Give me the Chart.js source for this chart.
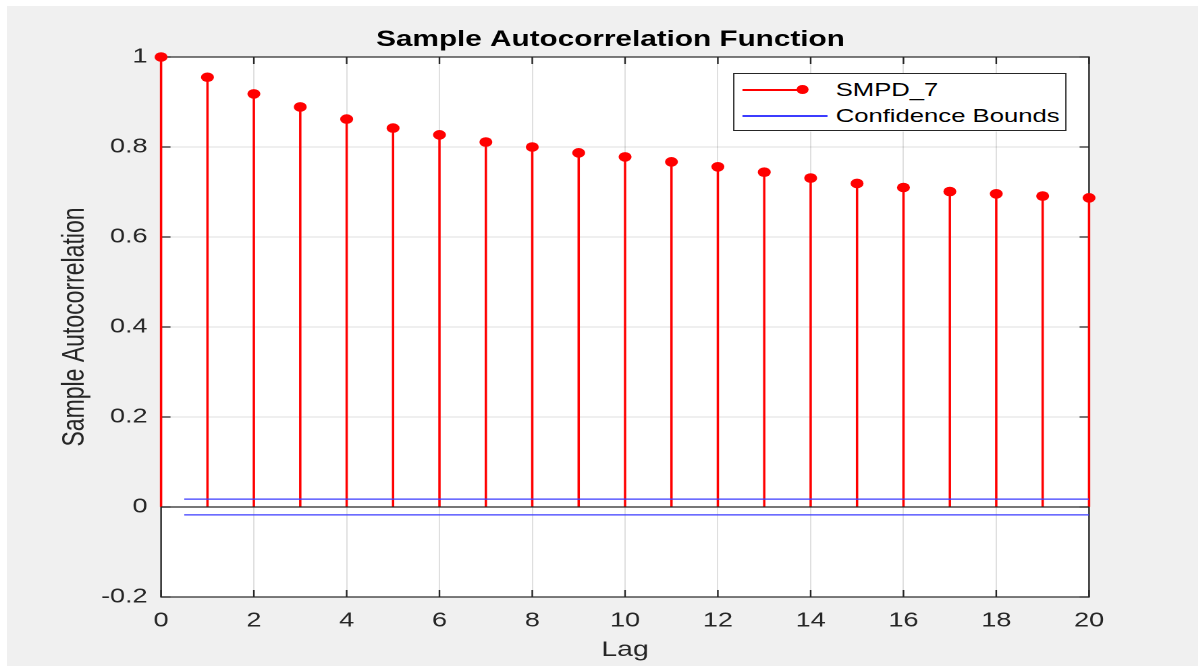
<!DOCTYPE html>
<html>
<head>
<meta charset="utf-8">
<title>Sample Autocorrelation Function</title>
<script src="https://cdn.jsdelivr.net/npm/chart.js@4.4.1/dist/chart.umd.min.js"></script>
<style>
  html, body { margin: 0; padding: 0; background: #ffffff; overflow: hidden; }
  body { width: 1198px; height: 666px; position: relative; font-family: "Liberation Sans", Arial, sans-serif; }
  #backdrop { position: absolute; left: 7px; top: 6px; right: 0; bottom: 0; background: #f0f0f0; }
  /* the reference figure is stretched sideways, so the whole chart is too */
  #stage { position: absolute; left: 0; top: 0; width: 888px; height: 666px; transform: scaleX(1.35); transform-origin: 0 0; }
  #stage canvas { position: absolute; left: 0; top: 0; }
  #legendBox { position: absolute; left: 543px; top: 73px; width: 245px; height: 56px; background: #fff; border: 1px solid #262626; }
  .legend-row { position: absolute; left: 0; height: 24px; width: 100%; }
  .legend-line { position: absolute; left: 6px; top: 11px; height: 1.5px; }
  .legend-dot { position: absolute; width: 9px; height: 9px; border-radius: 50%; background: #ff0000; top: 7px; }
  .legend-text { position: absolute; left: 75px; top: 0; line-height: 24px; font-size: 19px; color: #000; white-space: nowrap; }
</style>
</head>
<body>
<div id="backdrop"></div>
<div id="stage">
  <canvas id="acfChart" width="888" height="666"></canvas>
  <div id="legendBox">
    <div class="legend-row" style="top: 4px;">
      <span class="legend-line" style="width: 45px; background-color: #ff0000;"></span>
      <span class="legend-dot" style="left: 46px;"></span>
      <span class="legend-text" id="legendStem"></span>
    </div>
    <div class="legend-row" style="top: 30px;">
      <span class="legend-line" style="width: 63px; background-color: #3c3cff;"></span>
      <span class="legend-text" id="legendBounds"></span>
    </div>
  </div>
</div>
<script>
const lags = [0, 1, 2, 3, 4, 5, 6, 7, 8, 9, 10, 11, 12, 13, 14, 15, 16, 17, 18, 19, 20];
const acfValues = [1, 0.955, 0.918, 0.889, 0.862, 0.842, 0.827, 0.811, 0.800, 0.787, 0.778,
  0.767, 0.756, 0.744, 0.731, 0.719, 0.710, 0.701, 0.696, 0.691, 0.687];
const boundLags = [0.5, 20];
const upperBound = [0.0175, 0.0175];
const lowerBound = [-0.0175, -0.0175];
const baseLags = [0, 20];
const baseValues = [0, 0];

const xTicks = [0, 2, 4, 6, 8, 10, 12, 14, 16, 18, 20];
const xTickLabels = ['0', '2', '4', '6', '8', '10', '12', '14', '16', '18', '20'];
const yTicks = [-0.2, 0, 0.2, 0.4, 0.6, 0.8, 1];
const yTickLabels = ['-0.2', '0', '0.2', '0.4', '0.6', '0.8', '1'];

const seriesName = 'SMPD_7';
const boundsName = 'Confidence Bounds';
const chartTitle = 'Sample Autocorrelation Function';
const xTitle = 'Lag';
const yTitle = 'Sample Autocorrelation';

const axisColor = '#262626';
const gridColor = 'rgba(38,38,38,0.15)';
const stemColor = '#ff0000';
const boundColor = '#3c3cff';
const fontFamily = '"Liberation Sans", Arial, Helvetica, sans-serif';

document.getElementById('legendStem').textContent = seriesName;
document.getElementById('legendBounds').textContent = boundsName;

const toPoints = (xs, ys) => xs.map((x, i) => ({ x, y: ys[i] }));

// white plot area, then the MATLAB style box with inward ticks
const framePlugin = {
  id: 'frame',
  beforeDraw(chart) {
    const { ctx, chartArea: a } = chart;
    ctx.save();
    ctx.fillStyle = '#ffffff';
    ctx.fillRect(a.left, a.top, a.right - a.left, a.bottom - a.top);
    ctx.restore();
  },
  beforeDatasetsDraw(chart) {
    const { ctx, chartArea: a, scales } = chart;
    const tick = 7;
    ctx.save();
    ctx.strokeStyle = axisColor;
    ctx.lineWidth = 1.2;
    ctx.strokeRect(a.left, a.top, a.right - a.left, a.bottom - a.top);
    ctx.beginPath();
    xTicks.forEach((v) => {
      const px = scales.x.getPixelForValue(v);
      ctx.moveTo(px, a.bottom);
      ctx.lineTo(px, a.bottom - tick);
      ctx.moveTo(px, a.top);
      ctx.lineTo(px, a.top + tick);
    });
    yTicks.forEach((v) => {
      const py = scales.y.getPixelForValue(v);
      ctx.moveTo(a.left, py);
      ctx.lineTo(a.left + tick, py);
      ctx.moveTo(a.right, py);
      ctx.lineTo(a.right - tick, py);
    });
    ctx.stroke();
    ctx.restore();
  }
};

new Chart(document.getElementById('acfChart'), {
  type: 'bar',
  data: {
    datasets: [
      {
        type: 'scatter',
        label: seriesName,
        data: toPoints(lags, acfValues),
        pointRadius: 4.8,
        pointBackgroundColor: stemColor,
        pointBorderColor: stemColor,
        pointBorderWidth: 0,
        clip: false,
        order: 0
      },
      {
        type: 'line',
        label: boundsName,
        data: toPoints(boundLags, upperBound),
        borderColor: boundColor,
        borderWidth: 1.3,
        pointRadius: 0,
        order: 1
      },
      {
        type: 'line',
        label: 'lower',
        data: toPoints(boundLags, lowerBound),
        borderColor: boundColor,
        borderWidth: 1.3,
        pointRadius: 0,
        order: 1
      },
      {
        type: 'line',
        label: 'baseline',
        data: toPoints(baseLags, baseValues),
        borderColor: axisColor,
        borderWidth: 1.2,
        pointRadius: 0,
        order: 2
      },
      {
        type: 'bar',
        label: 'stems',
        data: toPoints(lags, acfValues),
        backgroundColor: stemColor,
        barThickness: 1.1,
        clip: false,
        order: 3
      }
    ]
  },
  options: {
    responsive: false,
    animation: false,
    devicePixelRatio: 2,
    layout: { padding: { left: 16.4, right: 0, top: 0, bottom: 0 } },
    plugins: {
      legend: { display: false },
      tooltip: { enabled: false },
      title: {
        display: true,
        text: chartTitle,
        color: '#000000',
        font: { family: fontFamily, size: 22, weight: 'bold' },
        padding: { top: 26.8, bottom: 3.8 }
      }
    },
    scales: {
      x: {
        type: 'linear',
        min: 0,
        max: 20,
        offset: false,
        afterFit(scale) { scale.height = 69; },
        afterBuildTicks(scale) { scale.ticks = xTicks.map((value) => ({ value })); },
        ticks: {
          color: axisColor,
          font: { family: fontFamily, size: 20 },
          padding: 12,
          maxRotation: 0,
          callback: (value) => xTickLabels[xTicks.indexOf(value)]
        },
        grid: { color: gridColor, drawTicks: false, offset: false },
        border: { display: false },
        title: {
          display: true,
          text: xTitle,
          color: axisColor,
          font: { family: fontFamily, size: 21 },
          padding: { top: 0, bottom: 3.4 }
        }
      },
      y: {
        type: 'linear',
        min: -0.2,
        max: 1,
        afterFit(scale) { scale.width = 102.9; },
        afterBuildTicks(scale) { scale.ticks = yTicks.map((value) => ({ value })); },
        ticks: {
          color: axisColor,
          font: { family: fontFamily, size: 20 },
          padding: 10,
          callback: (value) => yTickLabels[yTicks.findIndex((t) => Math.abs(t - value) < 1e-9)]
        },
        grid: { color: gridColor, drawTicks: false },
        border: { display: false },
        title: {
          display: true,
          text: yTitle,
          color: axisColor,
          font: { family: fontFamily, size: 23 },
          padding: { top: 25.4, bottom: 0 }
        }
      },
      yRight: {
        type: 'linear',
        position: 'right',
        display: true,
        afterFit(scale) { scale.width = 81.3; },
        ticks: { display: false },
        grid: { display: false, drawTicks: false },
        border: { display: false }
      }
    }
  },
  plugins: [framePlugin]
});
</script>
</body>
</html>
